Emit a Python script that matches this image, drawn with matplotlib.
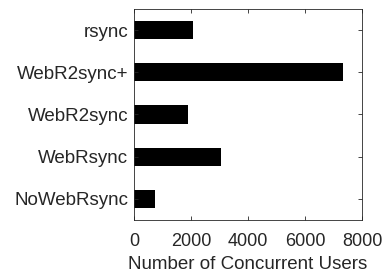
import matplotlib
matplotlib.use('Agg')
import matplotlib.pyplot as plt

# data, top to bottom as in the chart
methods = ['rsync', 'WebR2sync+', 'WebR2sync', 'WebRsync', 'NoWebRsync']
users = [2080, 7345, 1895, 3065, 735]

plt.rcParams['font.family'] = ['Liberation Sans', 'DejaVu Sans']
plt.rcParams['font.size'] = 13.5

fig = plt.figure(figsize=(3.91, 2.77), dpi=100)
ax = fig.add_axes([134/391, 1 - 220/277, 228/391, 211/277])

pos = list(range(len(methods), 0, -1))
ax.barh(pos, users, height=0.43, color='black')

ax.set_xlim(0, 8000)
ax.set_ylim(0.5, 5.5)
ax.set_xticks([0, 2000, 4000, 6000, 8000])
ax.set_yticks(pos)
ax.set_yticklabels(methods)
ax.set_xlabel('Number of Concurrent Users', color='#262626', labelpad=4.5)

ax.tick_params(direction='in', top=True, right=True, length=3,
               color='#262626', labelcolor='#262626', width=0.6)
ax.tick_params(axis='x', pad=9.5, labelsize=13)
ax.tick_params(axis='y', pad=4)
for s in ax.spines.values():
    s.set_color('#262626')
    s.set_linewidth(0.6)

fig.savefig('out.png', dpi=100)
